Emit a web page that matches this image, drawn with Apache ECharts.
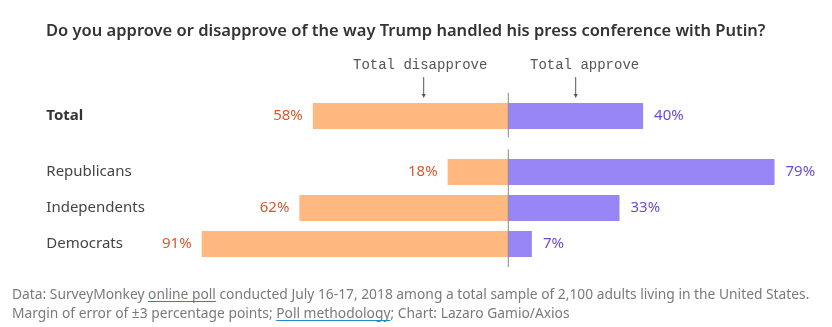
<!DOCTYPE html>
<html>
<head>
<meta charset="utf-8">
<style>
  html, body { margin: 0; padding: 0; background: #fff; }
  #chart { width: 832px; height: 327px; }
</style>
<script src="https://cdn.jsdelivr.net/npm/echarts@6/dist/echarts.min.js"></script>
</head>
<body>
<div id="chart"></div>
<script>
// Survey results: share who approve / disapprove, in percent
const totalCategory = ['Total'];
const totalDisapprove = [58];
const totalApprove = [40];

const groupCategories = ['Republicans', 'Independents', 'Democrats'];
const groupDisapprove = [18, 62, 91];
const groupApprove = [79, 33, 7];

const titleText = 'Do you approve or disapprove of the way Trump handled his press conference with Putin?';
const footerLine1 = ['Data: SurveyMonkey ', 'online poll', ' conducted July 16-17, 2018 among a total sample of 2,100 adults living in the United States.'];
const footerLine2 = ['Margin of error of \u00b13 percentage points; ', 'Poll methodology', '; Chart: Lazaro Gamio/Axios'];

const ORANGE = '#ffb880';
const PURPLE = '#9986f6';
const ORANGE_TEXT = '#d9582a';
const PURPLE_TEXT = '#6a4bd6';
const SANS = '"Noto Sans", sans-serif';
const MONO = '"Liberation Mono", monospace';

const chart = echarts.init(document.getElementById('chart'), null, { renderer: 'canvas' });

function xAxisFor(gridIndex) {
  return {
    type: 'value', gridIndex, min: -100, max: 90,
    show: false, splitLine: { show: false }
  };
}
function yAxisFor(gridIndex, cats, bold) {
  return {
    type: 'category', gridIndex, data: cats, inverse: true,
    axisLine: { show: false, onZero: false }, axisTick: { show: false },
    axisLabel: {
      align: 'left', margin: 125, color: bold ? '#333' : '#444',
      fontFamily: SANS, fontSize: 15, fontWeight: bold ? 'bold' : 'normal'
    }
  };
}
function barPair(idx, dis, app) {
  return [
    {
      type: 'bar', xAxisIndex: idx, yAxisIndex: idx, stack: 's' + idx, barWidth: 26,
      data: dis.map(v => -v), itemStyle: { color: ORANGE },
      label: {
        show: true, position: 'left', distance: 10, color: ORANGE_TEXT,
        fontFamily: SANS, fontSize: 15, formatter: p => Math.abs(p.value) + '%'
      },
      silent: true
    },
    {
      type: 'bar', xAxisIndex: idx, yAxisIndex: idx, stack: 's' + idx, barWidth: 26,
      data: app, itemStyle: { color: PURPLE },
      label: {
        show: true, position: 'right', distance: 11, color: PURPLE_TEXT,
        fontFamily: SANS, fontSize: 15, formatter: p => p.value + '%'
      },
      silent: true
    }
  ];
}

function textWidth(str, font) {
  const c = document.createElement('canvas').getContext('2d');
  c.font = font;
  return c.measureText(str).width;
}

// Footer with underlined link segments
const FOOT_SIZE = 13.8;
const footFont = FOOT_SIZE + 'px ' + SANS;
function footerGraphics(parts, x, y) {
  const out = [];
  let cx = x;
  parts.forEach((s, i) => {
    const w = textWidth(s, footFont);
    out.push({
      type: 'text', x: cx, y: y, silent: true,
      style: { text: s, font: footFont, fill: '#7a7a7a', verticalAlign: 'middle', align: 'left' }
    });
    if (i === 1) {
      out.push({
        type: 'rect', x: cx, y: y + 6, silent: true,
        shape: { width: w, height: 1 }, style: { fill: '#1f8ac9' }
      });
    }
    cx += w;
  });
  return out;
}

function arrow(x, y1, y2) {
  return [
    { type: 'line', silent: true, shape: { x1: x, y1: y1, x2: x, y2: y2 - 2 }, style: { stroke: '#555', lineWidth: 1 } },
    { type: 'polygon', silent: true, shape: { points: [[x - 2, y2 - 4], [x + 2, y2 - 4], [x, y2]] }, style: { fill: '#555' } }
  ];
}

chart.setOption({
  animation: false,
  title: {
    text: titleText, left: 41, top: 18,
    textStyle: { fontFamily: SANS, fontSize: 16.5, fontWeight: 600, color: '#333' }
  },
  grid: [
    { left: 171.3, width: 640.3, top: 98, height: 36, outerBoundsMode: 'none' },
    { left: 171.3, width: 640.3, top: 154, height: 108, outerBoundsMode: 'none' }
  ],
  xAxis: [xAxisFor(0), xAxisFor(1)],
  yAxis: [yAxisFor(0, totalCategory, true), yAxisFor(1, groupCategories, false)],
  series: [...barPair(0, totalDisapprove, totalApprove), ...barPair(1, groupDisapprove, groupApprove)]
});

// Zero line and annotations placed from the axis scale
const zx = chart.convertToPixel({ xAxisIndex: 0 }, 0);
const zx2 = chart.convertToPixel({ xAxisIndex: 1 }, 0);
chart.setOption({
  graphic: [
    { type: 'line', silent: true, z: 10, shape: { x1: zx, y1: 92.7, x2: zx, y2: 137.3 }, style: { stroke: '#888', lineWidth: 1 } },
    { type: 'line', silent: true, z: 10, shape: { x1: zx2, y1: 149.3, x2: zx2, y2: 267 }, style: { stroke: '#888', lineWidth: 1 } },
    { type: 'text', silent: true, left: 353, top: 58, style: { text: 'Total disapprove', font: '14px ' + MONO, fill: '#555' } },
    { type: 'text', silent: true, left: 530, top: 58, style: { text: 'Total approve', font: '14px ' + MONO, fill: '#555' } },
    ...arrow(423.7, 77, 98),
    ...arrow(575.7, 77, 98),
    ...footerGraphics(footerLine1, 12, 295),
    ...footerGraphics(footerLine2, 12, 314)
  ]
});
</script>
</body>
</html>
